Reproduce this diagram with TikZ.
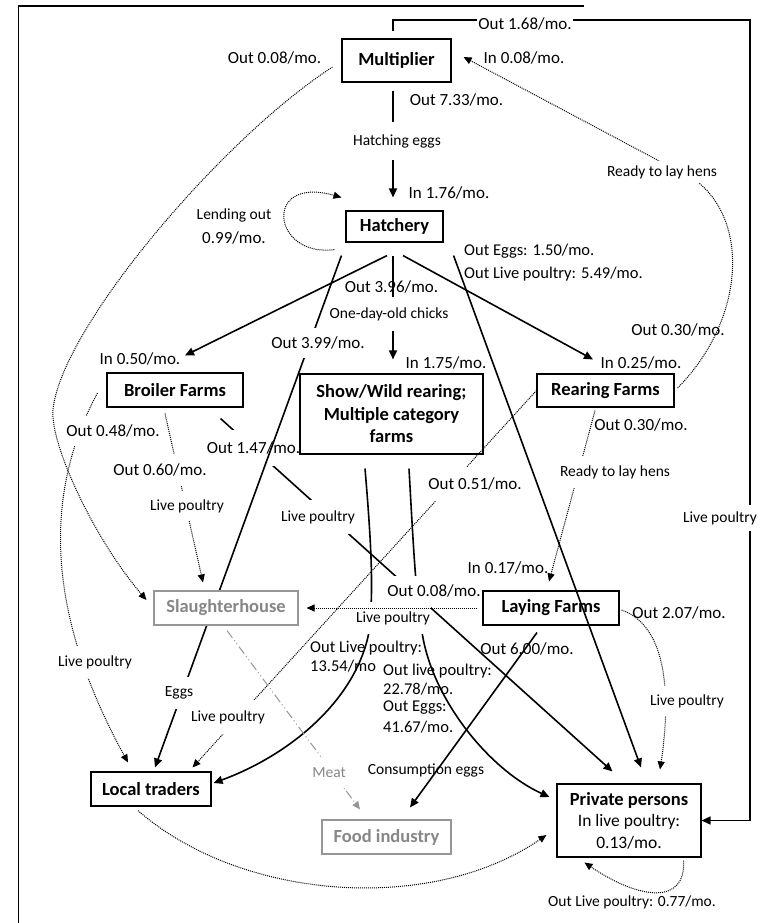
\documentclass[tikz,border=0pt]{standalone}
\usepackage{fontspec}
\setmainfont{Carlito}
\usetikzlibrary{arrows.meta,calc}
\pgfdeclarelayer{back}
\pgfsetlayers{back,main}
\definecolor{boxgray}{RGB}{150,150,150}
\definecolor{txtgray}{RGB}{135,135,135}
\begin{document}
\begin{tikzpicture}[x=1pt,y=-1pt,
  box/.style={draw,line width=1.1pt,fill=white,inner sep=0pt,align=center,font=\fontsize{18.5}{22.5}\selectfont\bfseries},
  graybox/.style={box,draw=boxgray,text=txtgray},
  flow/.style={line width=1.6pt,-{Triangle[length=9pt,width=8pt]}},
  dflow/.style={line width=1pt,dash pattern=on 1pt off 1pt,-{Triangle[length=8pt,width=7pt]}},
  graydash/.style={line width=1pt,draw=boxgray,dash pattern=on 9pt off 3pt on 1pt off 3pt on 1pt off 3pt,-{Triangle[length=8pt,width=7pt]}},
  lab/.style={font=\fontsize{17}{20}\selectfont,inner sep=1pt},
  mlab/.style={font=\fontsize{16.5}{19}\selectfont,inner sep=1pt},
  slab/.style={font=\fontsize{15.5}{18}\selectfont,inner sep=1pt},
  gap/.style={fill=white,inner xsep=1pt,inner ysep=#1},
  gap/.default=10pt]
\useasboundingbox (0,0) rectangle (764,923);
% frame
\draw[line width=1.3pt] (18.5,923) -- (18.5,6) -- (584,6);

% nodes
\node[box,minimum width=109pt,minimum height=43pt] (mult) at (396.5,60.5) {Multiplier};
\node[box,minimum width=97pt,minimum height=31pt] (hatch) at (394.5,226.5) {Hatchery};
\node[box,minimum width=136pt,minimum height=34pt] (broiler) at (175,390) {Broiler Farms};
\node[box,minimum width=183pt,minimum height=80pt] (show) at (391.5,414) {Show/Wild rearing;\\Multiple category\\farms};
\node[box,minimum width=137pt,minimum height=33pt] (rear) at (605.5,390.5) {Rearing Farms};
\node[graybox,minimum width=144pt,minimum height=34pt] (slaughter) at (226,608) {Slaughterhouse};
\node[box,minimum width=136pt,minimum height=34pt] (laying) at (551,608) {Laying Farms};
\node[box,minimum width=120pt,minimum height=34pt] (local) at (151,789) {Local traders};
\node[graybox,minimum width=129pt,minimum height=34pt] (food) at (386.5,837) {Food industry};
\node[box,minimum width=144pt,minimum height=73pt,font=\fontsize{17.5}{21.5}\selectfont] (pp) at (629,820.5) {\textbf{\fontsize{18.5}{21.5}\selectfont Private persons}\\In live poultry:\\0.13/mo.};
\coordinate (cTR) at (750,20);

% connectors hidden under boxes
\begin{pgfonlayer}{back}
\draw[flow] ($(broiler.south east)+(-23,11)$) -- ($(pp.north west)+(56,-12)$);
\node[lab,gap=12pt] at (253.5,448) {Out 1.47/mo.};
\node[slab,gap=10pt] at (318,517) {Live poultry};
\draw[flow] ($(hatch.south west)+(-4,13)$) -- ($(local.north)+(4,-4)$);
\node[lab,gap=9pt] at (318,343) {Out 3.99/mo.};
\node[slab,gap=10pt] at (179,693) {Eggs};
\end{pgfonlayer}

% top labels
\node[lab] at (274.5,58) {Out 0.08/mo.};
\node[lab] at (524,58) {In 0.08/mo.};
\node[lab] at (456.5,100) {Out 7.33/mo.};
\node[lab] at (449,193) {In 1.76/mo.};

% Multiplier -> Private persons
\draw[flow,shorten <=7pt] ([xshift=-3.5pt]mult.north) |- (cTR) |- (pp.east);
\node[lab,gap=3pt] at (525,24) {Out 1.68/mo.};
\node[slab,gap=6pt] at (720,518) {Live poultry};

% Multiplier -> Hatchery
\draw[flow] ($(mult.south)+(-3.5,8)$) -- ($(hatch.north)+(-1.5,-13)$);
\node[slab,gap=12pt] at (397,141) {Hatching eggs};

% Hatchery self loop
\draw[dflow] ($(hatch.south west)+(-11,7)$) .. controls (272,258) and (262,175) .. ($(hatch.north west)+(-4,-13)$);
\node[slab] at (234,215) {Lending out};
\node[lab] at (234,238) {0.99/mo.};

% Hatchery -> Broiler
\draw[flow] ($(hatch.south)+(-7.5,13)$) -- ($(broiler.north)+(10,-17)$);
\node[lab] at (140,359) {In 0.50/mo.};

% Hatchery -> Show
\draw[flow] ($(hatch.south)+(-1.5,13)$) -- ($(show.north)+(1.5,-14)$);
\node[lab] at (391.5,287) {Out 3.96/mo.};
\node[slab,gap=10pt] at (389,314) {One-day-old chicks};
\node[lab] at (446,363) {In 1.75/mo.};

% Hatchery -> Rearing
\draw[flow] ($(hatch.south)+(8.5,13)$) -- ($(rear.north)+(-12.5,-14)$);
\node[lab] at (641,363) {In 0.25/mo.};

% Hatchery -> Private persons
\draw[flow] ($(hatch.south east)+(10,13)$) -- ($(pp.north)+(12,-16)$);
\node[mlab,anchor=west] at (463,251) {Out Eggs: 1.50/mo.};
\node[mlab,anchor=west] at (463,274) {Out Live poultry: 5.49/mo.};

% Broiler -> Slaughterhouse
\draw[dflow] ($(broiler.south)+(-10,6)$) -- ($(slaughter.north)+(-23,-8)$);
\node[lab,gap=10pt] at (160,470) {Out 0.60/mo.};
\node[slab,gap=8pt] at (187,506) {Live poultry};

% Broiler -> Local traders
\draw[dflow] ($(broiler.west)+(-9,3)$) .. controls (40,500) and (50,620) .. ($(local.north)+(-23,-9)$);
\node[lab,gap=9pt] at (113,431) {Out 0.48/mo.};
\node[slab,gap=9pt] at (95,662) {Live poultry};

% Multiplier -> Slaughterhouse
\draw[dflow] ($(mult.west)+(-9,6.5)$) .. controls (220,140) and (60,330) .. (53,410) .. controls (50,445) and (95,540) .. ($(slaughter.west)+(-7,-8)$);

% Rearing -> Multiplier
\draw[dflow] ($(rear.east)+(3,-2.5)$) .. controls (745,320) and (750,220) .. (695,180) -- ($(mult.east)+(12,-3.5)$);
\node[slab,gap=4pt] at (662,172) {Ready to lay hens};
\node[lab] at (678,330) {Out 0.30/mo.};

% Rearing -> Laying
\draw[dflow] ($(rear.south)+(-10.5,3)$) -- ($(laying.north)+(-2,-9)$);
\node[lab] at (641,425) {Out 0.30/mo.};
\node[slab,gap=9pt] at (615,472) {Ready to lay hens};
\node[lab] at (508,568) {In 0.17/mo.};

% Rearing -> Local traders
\draw[dflow] (rear.west) -- ($(local.north east)+(-19,-4)$);
\node[lab,gap=11pt] at (475,484) {Out 0.51/mo.};
\node[slab,gap=10pt] at (228,717) {Live poultry};

% Show -> Local traders
\draw[flow] ($(show.south)+(-26.5,14)$) .. controls (371,540) and (374,590) .. (369,632) .. controls (356,700) and (290,755) .. ($(local.east)+(2,-6)$);
\node[mlab,anchor=west] at (309,648) {Out Live poultry:};
\node[mlab,anchor=west] at (309,666) {13.54/mo};

% Show -> Private persons
\draw[flow] ($(show.south)+(17.5,14)$) .. controls (413,540) and (416,600) .. (422,632) .. controls (432,700) and (490,770) .. ($(pp.west)+(-7,-23.5)$);
\node[mlab,anchor=west] at (382,671) {Out live poultry:};
\node[mlab,anchor=west] at (382,689) {22.78/mo.};
\node[mlab,anchor=west] at (382,708) {Out Eggs:};
\node[mlab,anchor=west] at (382,727) {41.67/mo.};

% Laying -> Slaughterhouse
\node[lab,gap=9pt] at (434,591) {Out 0.08/mo.};
\node[slab,gap=9pt] at (393,618) {Live poultry};
\draw[dflow] ($(laying.west)+(-5,0)$) -- ($(slaughter.east)+(8,0)$);

% Laying -> Food industry
\draw[flow] ($(laying.south)+(-14,7)$) -- ($(food.north)+(23.5,-12)$);
\node[lab] at (527,649) {Out 6.00/mo.};
\node[slab] at (426,770) {Consumption eggs};

% Laying -> Private persons
\draw[dflow] ($(laying.east)+(2,2)$) .. controls (665,625) and (672,690) .. ($(pp.north)+(31,-14)$);
\node[lab] at (679,613) {Out 2.07/mo.};
\node[slab,gap=8pt] at (687,701) {Live poultry};

% Local traders -> Private persons
\draw[dflow] ($(local.south)+(-13,4)$) .. controls (240,900) and (430,915) .. ($(pp.west)+(-10,14.5)$);

% Private persons self loop
\draw[dflow] ($(pp.south east)+(-18,3)$) .. controls (686,905) and (640,900) .. ($(pp.south west)+(28,5)$);
\node[slab] at (632,902) {Out Live poultry: 0.77/mo.};

% Slaughterhouse -> Food industry
\draw[graydash] ($(slaughter.south)+(1,5)$) -- ($(food.north)+(-26.5,-10)$);
\node[slab,gap=10pt,text=txtgray] at (329,773) {Meat};
\end{tikzpicture}
\end{document}
